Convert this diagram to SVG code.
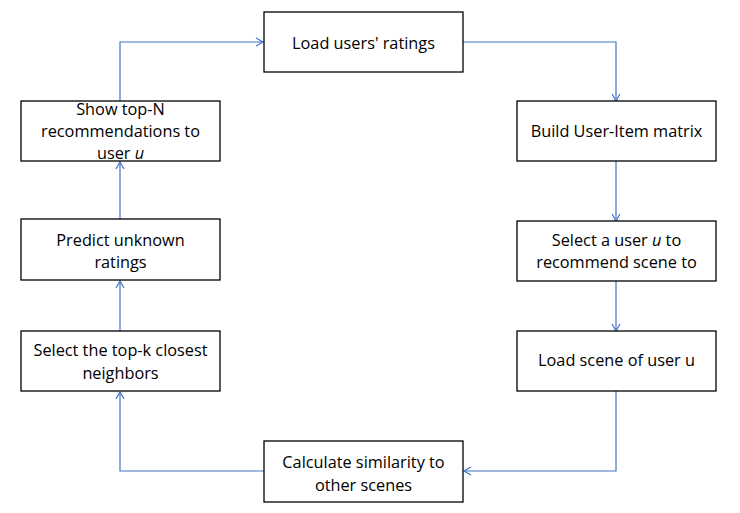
<svg xmlns="http://www.w3.org/2000/svg" width="740" height="513" viewBox="0 0 740 513">
<style>
.box{fill:#fff;stroke:#000;stroke-width:1.3}
.t{font-family:"Open Sans","Liberation Sans",sans-serif;font-size:16.3px;fill:#000;text-anchor:middle;dominant-baseline:central}
.c{fill:none;stroke:#4472C4;stroke-width:1.2}
</style>
<defs>
<marker id="a" markerWidth="10" markerHeight="10" refX="8" refY="5" orient="auto" markerUnits="userSpaceOnUse">
<path d="M1,1 L8,5 L1,9" fill="none" stroke="#4472C4" stroke-width="1.2"/>
</marker>
</defs>
<rect width="740" height="513" fill="#fff"/>
<g id="connectors">
<polyline class="c" points="463,42 616,42 616,101" marker-end="url(#a)"/>
<polyline class="c" points="616,161 616,221" marker-end="url(#a)"/>
<polyline class="c" points="616,281 616,331" marker-end="url(#a)"/>
<polyline class="c" points="616,391 616,471 464,471" marker-end="url(#a)"/>
<polyline class="c" points="264,471 120,471 120,392" marker-end="url(#a)"/>
<polyline class="c" points="120,331 120,281" marker-end="url(#a)"/>
<polyline class="c" points="120,219 120,162" marker-end="url(#a)"/>
<polyline class="c" points="120,101 120,42 263,42" marker-end="url(#a)"/>
</g>
<g id="load-ratings"><rect class="box" x="264" y="12" width="199" height="60"/><text class="t" x="363.5" y="43">Load users' ratings</text></g>
<g id="build-matrix"><rect class="box" x="517" y="101" width="199" height="60"/><text class="t" x="616.5" y="131">Build User-Item matrix</text></g>
<g id="select-user"><rect class="box" x="517" y="221" width="199" height="60"/><text class="t" x="616.5" y="240">Select a user <tspan font-style="italic">u</tspan> to</text><text class="t" x="616.5" y="262">recommend scene to</text></g>
<g id="load-scene"><rect class="box" x="517" y="331" width="199" height="60"/><text class="t" x="616.5" y="360">Load scene of user u</text></g>
<g id="similarity"><rect class="box" x="264" y="441" width="199" height="61"/><text class="t" x="363.5" y="462">Calculate similarity to</text><text class="t" x="363.5" y="485">other scenes</text></g>
<g id="top-k"><rect class="box" x="21" y="331" width="199" height="60"/><text class="t" x="120.5" y="350">Select the top-k closest</text><text class="t" x="120.5" y="373">neighbors</text></g>
<g id="predict"><rect class="box" x="21" y="219" width="199" height="61"/><text class="t" x="120.5" y="240">Predict unknown</text><text class="t" x="120.5" y="262">ratings</text></g>
<g id="show-top-n"><rect class="box" x="21" y="101" width="199" height="60"/><text class="t" x="120.5" y="109">Show top-N</text><text class="t" x="120.5" y="131">recommendations to</text><text class="t" x="120.5" y="153">user <tspan font-style="italic">u</tspan></text></g>
</svg>
